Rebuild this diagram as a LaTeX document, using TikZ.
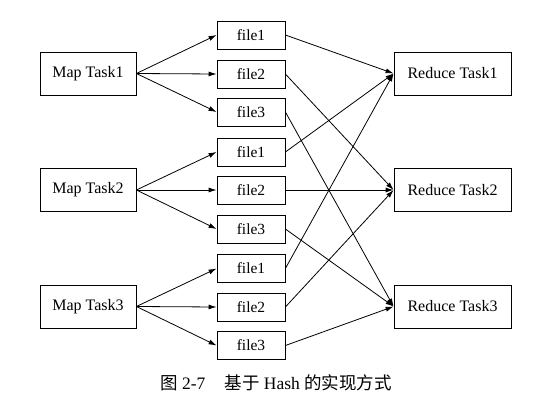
\documentclass[tikz,border=0pt]{standalone}
\usepackage{fontspec}
\setmainfont{Liberation Serif}
\newfontfamily\cjk{Noto Sans CJK SC}
\usetikzlibrary{arrows.meta}

\begin{document}
\begin{tikzpicture}[x=1pt, y=-1pt,
    task/.style={draw, line width=0.8pt, minimum width=96pt, minimum height=43pt, inner sep=0pt, font=\fontsize{16}{18}\selectfont},
    reduce/.style={task, minimum width=117pt},
    file/.style={draw, line width=0.8pt, minimum width=68pt, minimum height=28pt, inner sep=0pt, font=\fontsize{15.5}{18}\selectfont},
    arrow/.style={-{Latex[length=8pt,width=5pt]}, line width=0.8pt}
]
\useasboundingbox (0,0) rectangle (542,413);

% Map tasks
\node[task] (map1) at (88,73.5) {Map Task1};
\node[task] (map2) at (88,190) {Map Task2};
\node[task] (map3) at (88,306.5) {Map Task3};

% Intermediate files
\node[file] (f11) at (251,35) {file1};
\node[file] (f12) at (251,74) {file2};
\node[file] (f13) at (251,112) {file3};
\node[file] (f21) at (251,152) {file1};
\node[file] (f22) at (251,190) {file2};
\node[file] (f23) at (251,229) {file3};
\node[file] (f31) at (251,268.5) {file1};
\node[file] (f32) at (251,307) {file2};
\node[file] (f33) at (251,345.5) {file3};

% Reduce tasks
\node[reduce] (red1) at (452.5,73.5) {Reduce Task1};
\node[reduce] (red2) at (452.5,190) {Reduce Task2};
\node[reduce] (red3) at (452.5,306.5) {Reduce Task3};

% Map -> files
\draw[arrow] (map1.east) -- (f11.west);
\draw[arrow] (map1.east) -- (f12.west);
\draw[arrow] (map1.east) -- (f13.west);
\draw[arrow] (map2.east) -- (f21.west);
\draw[arrow] (map2.east) -- (f22.west);
\draw[arrow] (map2.east) -- (f23.west);
\draw[arrow] (map3.east) -- (f31.west);
\draw[arrow] (map3.east) -- (f32.west);
\draw[arrow] (map3.east) -- (f33.west);

% files -> Reduce
\draw[arrow] (f11.east) -- (red1.west);
\draw[arrow] (f21.east) -- (red1.west);
\draw[arrow] (f31.east) -- (red1.west);
\draw[arrow] (f12.east) -- (red2.west);
\draw[arrow] (f22.east) -- (red2.west);
\draw[arrow] (f32.east) -- (red2.west);
\draw[arrow] (f13.east) -- (red3.west);
\draw[arrow] (f23.east) -- (red3.west);
\draw[arrow] (f33.east) -- (red3.west);

% Caption
\node[font=\fontsize{17.5}{20}\selectfont] (caption) at (276,383) {{\cjk 图}~2-7\hspace{1.1em}{\cjk 基于}~Hash~{\cjk 的实现方式}};
\end{tikzpicture}
\end{document}
